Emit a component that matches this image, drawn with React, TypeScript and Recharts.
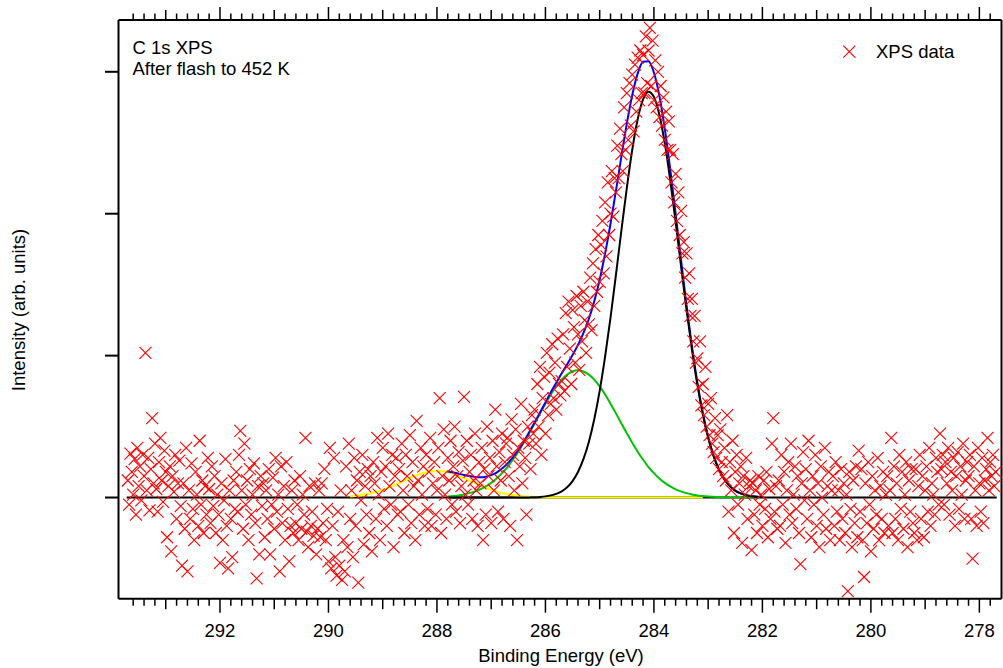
import React from 'react';
import { ComposedChart, Line, Scatter, XAxis, YAxis, ReferenceLine } from 'recharts';

const FONT = '"Liberation Sans", Arial, Helvetica, sans-serif';
const FS = 18.5;

// axis ranges (binding energy, eV, reversed) and intensity (arb. units)
const X_MIN = 277.592;
const X_MAX = 293.871;
const Y_MIN = -0.713;
const Y_MAX = 3.365;

const majorTickLabels = [292, 290, 288, 286, 284, 282, 280, 278];
const yTicks = [0, 1, 2, 3];
const minorTicks = Array.from({ length: 80 }, (_, i) => +(277.8 + i * 0.2).toFixed(1));

const annotationLines = ['C 1s XPS', 'After flash to 452 K'];
const legendLabel = 'XPS data';
const xTitle = 'Binding Energy (eV)';
const yTitle = 'Intensity (arb. units)';

// measured XPS data: energies from 293.7 eV down in 0.025 eV steps
const DATA_START = 293.7;
const DATA_STEP = 0.025;
const intensity = [
  0.12, -0.05, 0.31, 0.18, 0.02, 0.27, -0.12, 0.35, 0.08, 0.22, -0.02, 0.30, 0.15, 1.02, 0.05, 0.28, -0.09, 0.20, 0.56, 0.10,
  0.38, 0.06, -0.10, 0.25, 0.42, 0.12, -0.03, 0.33, 0.18, -0.28, 0.08, 0.22, -0.38, 0.15, 0.04, 0.30, -0.15, 0.10, 0.26, -0.06,
  -0.48, 0.10, -0.22, 0.35, -0.52, 0.05, -0.15, 0.24, -0.08, -0.30, 0.18, 0.02, -0.20, 0.40, -0.05, 0.12, -0.25, 0.08, -0.12, 0.28,
  0.06, -0.18, 0.22, -0.06, 0.15, -0.25, 0.02, -0.12, -0.46, 0.10, -0.30, -0.02, 0.27, -0.20, -0.50, 0.05, -0.15, -0.42, 0.12, -0.08,
  0.18, -0.10, 0.30, 0.47, 0.05, -0.22, 0.38, -0.05, 0.12, -0.30, 0.20, -0.12, 0.02, 0.24, -0.18, -0.57, 0.08, -0.40, 0.15, -0.06,
  0.10, -0.28, 0.05, -0.15, 0.20, -0.40, -0.05, 0.14, -0.22, 0.28, -0.10, 0.02, -0.52, 0.22, -0.18, 0.08, -0.30, 0.25, -0.08, -0.45,
  -0.20, 0.05, -0.25, 0.12, -0.18, -0.05, -0.30, 0.15, -0.22, 0.02, -0.12, 0.42, -0.24, -0.35, 0.08, -0.20, -0.10, -0.27, 0.10, -0.40,
  -0.22, 0.05, -0.28, 0.10, -0.18, 0.20, -0.30, -0.08, -0.45, 0.35, -0.50, -0.20, 0.28, -0.42, -0.55, -0.10, -0.48, 0.05, -0.58, -0.30,
  -0.52, 0.22, -0.35, 0.38, -0.15, 0.05, -0.42, 0.28, -0.20, 0.12, -0.60, 0.18, -0.02, 0.30, -0.33, 0.08, -0.12, 0.20, -0.25, 0.15,
  -0.38, 0.25, 0.10, -0.15, 0.42, 0.02, -0.30, 0.18, 0.35, -0.08, 0.22, -0.20, 0.45, 0.08, -0.05, 0.30, -0.35, 0.15, 0.28, -0.12,
  0.20, -0.10, 0.38, 0.05, -0.25, 0.30, 0.15, -0.05, 0.44, -0.18, 0.25, 0.08, -0.30, 0.54, 0.12, -0.12, 0.35, 0.02, 0.22, -0.20,
  0.30, -0.08, 0.18, 0.42, -0.20, 0.10, 0.25, -0.12, 0.05, 0.35, 0.70, -0.25, 0.15, 0.48, 0.02, -0.15, 0.28, 0.12, 0.40, -0.05,
  0.22, 0.50, -0.10, 0.15, 0.32, -0.18, 0.08, 0.26, 0.71, 0.02, 0.40, -0.05, 0.18, 0.30, -0.15, 0.12, 0.45, 0.05, -0.20, 0.25,
  0.10, 0.35, -0.30, 0.20, -0.12, 0.50, 0.15, 0.28, -0.18, 0.40, 0.05, 0.62, 0.22, -0.10, 0.32, 0.12, 0.45, -0.15, 0.25, 0.38,
  0.42, 0.15, -0.20, 0.55, 0.30, 0.05, 0.48, -0.30, 0.35, 0.22, 0.66, 0.10, 0.40, 0.28, -0.12, 0.50, 0.38, 0.20, 0.58, 0.45,
  0.62, 0.38, 0.80, 0.50, 0.92, 0.30, 0.70, 0.85, 0.45, 1.02, 0.58, 0.88, 0.66, 1.08, 0.70, 0.95, 0.62, 1.12, 0.80, 0.72,
  0.82, 1.15, 0.75, 1.30, 0.92, 1.38, 1.05, 0.80, 1.32, 1.20, 0.95, 1.42, 1.15, 0.90, 1.35, 1.10, 1.45, 1.25, 1.02, 1.38,
  1.22, 1.55, 1.18, 1.65, 1.35, 1.75, 1.45, 1.85, 1.52, 1.78, 1.95, 1.58, 2.08, 1.70, 2.22, 1.85, 2.00, 2.30, 1.98, 2.25,
  2.15, 2.48, 2.25, 2.60, 2.42, 2.30, 2.75, 2.45, 2.85, 2.52, 2.92, 2.62, 2.98, 2.58, 3.05, 2.72, 3.10, 2.80, 3.15, 2.85,
  3.12, 2.85, 3.25, 2.92, 3.15, 3.31, 2.90, 3.22, 2.80, 3.08, 2.75, 3.00, 2.68, 2.90, 2.62, 2.82, 2.52, 2.72, 2.45, 2.65,
  2.45, 2.22, 2.42, 2.08, 2.28, 1.95, 2.15, 1.85, 2.02, 1.72, 1.80, 1.55, 1.72, 1.40, 1.58, 1.28, 1.40, 1.10, 1.28, 0.95,
  0.98, 0.78, 1.10, 0.65, 0.80, 0.58, 0.92, 0.50, 0.66, 0.44, 0.70, 0.38, 0.32, 0.56, 0.28, 0.44, 0.20, 0.48, 0.25, 0.15,
  0.35, 0.12, 0.58, -0.10, 0.25, 0.05, 0.40, -0.25, 0.18, 0.30, -0.05, 0.10, 0.22, -0.32, 0.15, 0.02, 0.28, -0.15, 0.08, 0.12,
  -0.37, 0.10, -0.12, 0.05, -0.25, 0.15, -0.05, 0.02, -0.20, 0.12, -0.08, 0.18, -0.28, 0.06, -0.15, 0.38, 0.56, -0.10, 0.08, -0.22,
  0.12, -0.20, 0.30, -0.05, 0.18, -0.32, 0.05, 0.25, -0.12, 0.38, -0.18, 0.02, 0.22, -0.08, 0.15, -0.25, -0.47, 0.10, 0.32, -0.02,
  0.20, -0.15, 0.40, 0.05, -0.28, 0.15, -0.05, 0.30, -0.20, 0.10, -0.35, 0.22, 0.00, -0.12, 0.35, -0.22, 0.08, 0.18, -0.30, 0.05,
  0.15, -0.20, 0.25, -0.10, 0.05, -0.30, 0.20, -0.15, 0.10, -0.25, 0.02, -0.66, 0.18, -0.08, -0.35, 0.12, -0.18, 0.22, -0.28, 0.33,
  -0.10, 0.20, -0.30, -0.56, 0.10, -0.18, 0.25, -0.05, -0.38, 0.15, -0.22, 0.05, -0.12, 0.28, -0.30, 0.08, -0.15, 0.18, -0.25, 0.02,
  0.15, -0.20, 0.05, 0.42, -0.25, 0.22, -0.15, 0.10, -0.30, 0.30, -0.08, 0.18, -0.22, 0.02, 0.25, -0.35, 0.12, -0.10, 0.20, -0.18,
  -0.25, 0.20, -0.30, 0.08, 0.30, -0.15, 0.15, -0.28, 0.05, 0.22, -0.10, 0.35, -0.20, 0.10, 0.02, -0.12, 0.28, 0.18, -0.05, 0.45,
  0.20, 0.30, -0.05, 0.25, 0.10, 0.35, -0.12, 0.18, 0.05, 0.28, -0.20, 0.15, 0.32, -0.08, 0.22, 0.02, 0.38, -0.15, 0.12, 0.25,
  0.15, 0.30, -0.15, -0.43, 0.22, 0.05, -0.20, 0.35, 0.10, -0.10, 0.28, -0.18, 0.12, 0.20, 0.42, 0.05, 0.25, 0.15, 0.30, 0.08,
  0.18,
];

// fitted components, sampled from 289.6 eV down to 282.0 eV every 0.1 eV
const FIT_START = 289.6;
const FIT_STEP = 0.1;
const N = null;
const yellowFit = [
  0.008, 0.012, 0.017, 0.024, 0.032, 0.042, 0.055, 0.069, 0.085, 0.102,
  0.120, 0.137, 0.153, 0.167, 0.177, 0.184, 0.186, 0.184, 0.177, 0.167,
  0.153, 0.137, 0.120, 0.102, 0.085, 0.069, 0.055, 0.042, 0.032, 0.024,
  0.017, 0.012, 0.008, 0.005, 0.004, 0.002, 0.001, 0, 0, 0,
  0, 0, 0, 0, 0, 0, 0, 0, 0, 0,
  0, 0, 0, 0, 0, 0, 0, 0, 0, 0,
  0, 0, 0, 0, 0, 0, N, N, N, N,
  N, N, N, N, N, N, N,
];
const greenFit = [
  N, N, N, N, N, N, N, N, N, N, N, N, N, N, N, N, N, N,
  0.007, 0.010, 0.015, 0.022, 0.031, 0.043, 0.058, 0.078, 0.103, 0.134,
  0.172, 0.215, 0.266, 0.323, 0.386, 0.453, 0.522, 0.593, 0.661, 0.726,
  0.783, 0.831, 0.866, 0.888, 0.896, 0.888, 0.866, 0.831, 0.783, 0.726,
  0.661, 0.593, 0.522, 0.453, 0.386, 0.323, 0.266, 0.215, 0.172, 0.134,
  0.103, 0.078, 0.058, 0.043, 0.031, 0.022, 0.015, 0.010, 0.007, 0.005,
  0.003, 0.002, 0.001, 0.001, 0, 0, 0, 0, 0,
];
const mainFit = [
  N, N, N, N, N, N, N, N, N, N, N, N, N, N, N, N, N, N,
  0, 0, 0, 0, 0, 0, 0, 0, 0, 0,
  0, 0, 0, 0, 0, 0.001, 0.002, 0.004, 0.008, 0.015,
  0.026, 0.044, 0.072, 0.116, 0.180, 0.270, 0.392, 0.552, 0.752, 0.993,
  1.268, 1.570, 1.880, 2.181, 2.449, 2.664, 2.805, 2.860, 2.823, 2.698,
  2.497, 2.238, 1.942, 1.631, 1.327, 1.045, 0.797, 0.589, 0.421, 0.291,
  0.195, 0.127, 0.080, 0.048, 0.029, 0.016, 0.009, 0.005, 0.003,
];
const envelopeFit = [
  N, N, N, N, N, N, N, N, N, N, N, N, N, N, N, N, N, N,
  0.184, 0.177, 0.168, 0.159, 0.151, 0.145, 0.143, 0.147, 0.158, 0.176,
  0.204, 0.239, 0.283, 0.335, 0.394, 0.460, 0.528, 0.599, 0.670, 0.742,
  0.809, 0.875, 0.938, 1.004, 1.076, 1.158, 1.258, 1.383, 1.535, 1.719,
  1.929, 2.163, 2.402, 2.634, 2.835, 2.987, 3.071, 3.075, 2.995, 2.832,
  2.600, 2.316, 2.000, 1.674, 1.358, 1.067, 0.812, 0.599, 0.428, 0.296,
  0.198, 0.129, 0.081, 0.049, 0.029, 0.016, 0.009, 0.005, 0.003,
];
const BASE_FROM = 293.72;
const BASE_TO = 277.68;

const scatterData = intensity.map((y, i) => ({ x: +(DATA_START - i * DATA_STEP).toFixed(3), y }));
const fitRows = yellowFit.map((_, i) => ({
  x: +(FIT_START - i * FIT_STEP).toFixed(2),
  base: 0,
  yellow: yellowFit[i],
  green: greenFit[i],
  main: mainFit[i],
  envelope: envelopeFit[i],
}));
const chartData = [{ x: BASE_FROM, base: 0 }, ...fitRows, { x: BASE_TO, base: 0 }];

const tickKind = (v: number) => {
  const k = Math.round(v * 5);
  if (k % 10 === 0) return 'major';
  if (k % 5 === 0) return 'mid';
  return 'minor';
};

const BottomTick = (props: any) => {
  const { x, y, payload } = props;
  const kind = tickKind(payload.value);
  const len = kind === 'major' ? 14 : kind === 'mid' ? 10.5 : 7;
  const val = Math.round(payload.value);
  return (
    <g>
      <line x1={x} x2={x} y1={y} y2={y + len} stroke="#000" strokeWidth={1.5} />
      {kind === 'major' && majorTickLabels.includes(val) && (
        <text x={x} y={y + 38.6} textAnchor="middle" fontSize={FS} fontFamily={FONT} fill="#000">
          {val}
        </text>
      )}
    </g>
  );
};

const TopTick = (props: any) => {
  const { x, y, payload } = props;
  const kind = tickKind(payload.value);
  const len = kind === 'major' ? 13 : kind === 'mid' ? 10 : 6.5;
  return <line x1={x} x2={x} y1={y} y2={y - len} stroke="#000" strokeWidth={1.5} />;
};

const LeftTick = (props: any) => {
  const { x, y } = props;
  return <line x1={x - 13.5} x2={x} y1={y} y2={y} stroke="#000" strokeWidth={2} />;
};

const Cross = (props: any) => {
  const { cx, cy } = props;
  if (cx == null || cy == null) return null;
  const s = 6;
  return (
    <path
      d={`M${cx - s},${cy - s}L${cx + s},${cy + s}M${cx - s},${cy + s}L${cx + s},${cy - s}`}
      stroke="#ff0000"
      strokeWidth={1.1}
      fill="none"
    />
  );
};

export default function App() {
  return (
    <div style={{ position: 'absolute', left: 0, top: 0, width: 1003, height: 668, background: '#fff' }}>
      <ComposedChart
        width={1003}
        height={668}
        data={chartData}
        margin={{ top: 10, right: 1.5, bottom: 29.3, left: 58.5 }}
      >
        <XAxis
          dataKey="x"
          type="number"
          domain={[X_MIN, X_MAX]}
          reversed
          allowDataOverflow
          ticks={minorTicks}
          interval={0}
          tick={BottomTick}
          tickLine={false}
          tickSize={0}
          tickMargin={0}
          height={40}
          axisLine={{ stroke: '#000', strokeWidth: 2 }}
        />
        <XAxis
          xAxisId="top"
          orientation="top"
          dataKey="x"
          type="number"
          domain={[X_MIN, X_MAX]}
          reversed
          allowDataOverflow
          ticks={minorTicks}
          interval={0}
          tick={TopTick}
          tickLine={false}
          tickSize={0}
          tickMargin={0}
          height={10}
          axisLine={{ stroke: '#000', strokeWidth: 2 }}
        />
        <YAxis
          type="number"
          domain={[Y_MIN, Y_MAX]}
          allowDataOverflow
          ticks={yTicks}
          interval={0}
          tick={LeftTick}
          tickLine={false}
          tickSize={0}
          tickMargin={0}
          width={60}
          axisLine={{ stroke: '#000', strokeWidth: 2 }}
        />
        <ReferenceLine x={X_MIN} stroke="#000" strokeWidth={2} />
        <Scatter data={scatterData} dataKey="y" shape={Cross} isAnimationActive={false} />
        <Line dataKey="base" type="linear" stroke="#000" strokeWidth={2} dot={false} activeDot={false} isAnimationActive={false} />
        <Line dataKey="yellow" type="monotone" stroke="#ffff00" strokeWidth={2.2} dot={false} activeDot={false} isAnimationActive={false} />
        <Line dataKey="green" type="monotone" stroke="#00c400" strokeWidth={2} dot={false} activeDot={false} isAnimationActive={false} />
        <Line dataKey="envelope" type="monotone" stroke="#0000ff" strokeWidth={2} dot={false} activeDot={false} isAnimationActive={false} />
        <Line dataKey="main" type="monotone" stroke="#000" strokeWidth={2} dot={false} activeDot={false} isAnimationActive={false} />
      </ComposedChart>
      <svg
        width={1003}
        height={668}
        style={{ position: 'absolute', left: 0, top: 0, pointerEvents: 'none' }}
        fontFamily={FONT}
        fontSize={FS}
      >
        {annotationLines.map((t, i) => (
          <text key={t} x={132.5} y={54.3 + i * 20.8} fill="#000">
            {t}
          </text>
        ))}
        <path d="M843.3,45.7L855.3,57.7M843.3,57.7L855.3,45.7" stroke="#ff0000" strokeWidth={1.1} fill="none" />
        <text x={876} y={57.5} fill="#000">{legendLabel}</text>
        <text x={561} y={662} textAnchor="middle" fill="#000">{xTitle}</text>
        <text x={25} y={310} textAnchor="middle" transform="rotate(-90, 25, 310)" fill="#000">{yTitle}</text>
      </svg>
    </div>
  );
}
